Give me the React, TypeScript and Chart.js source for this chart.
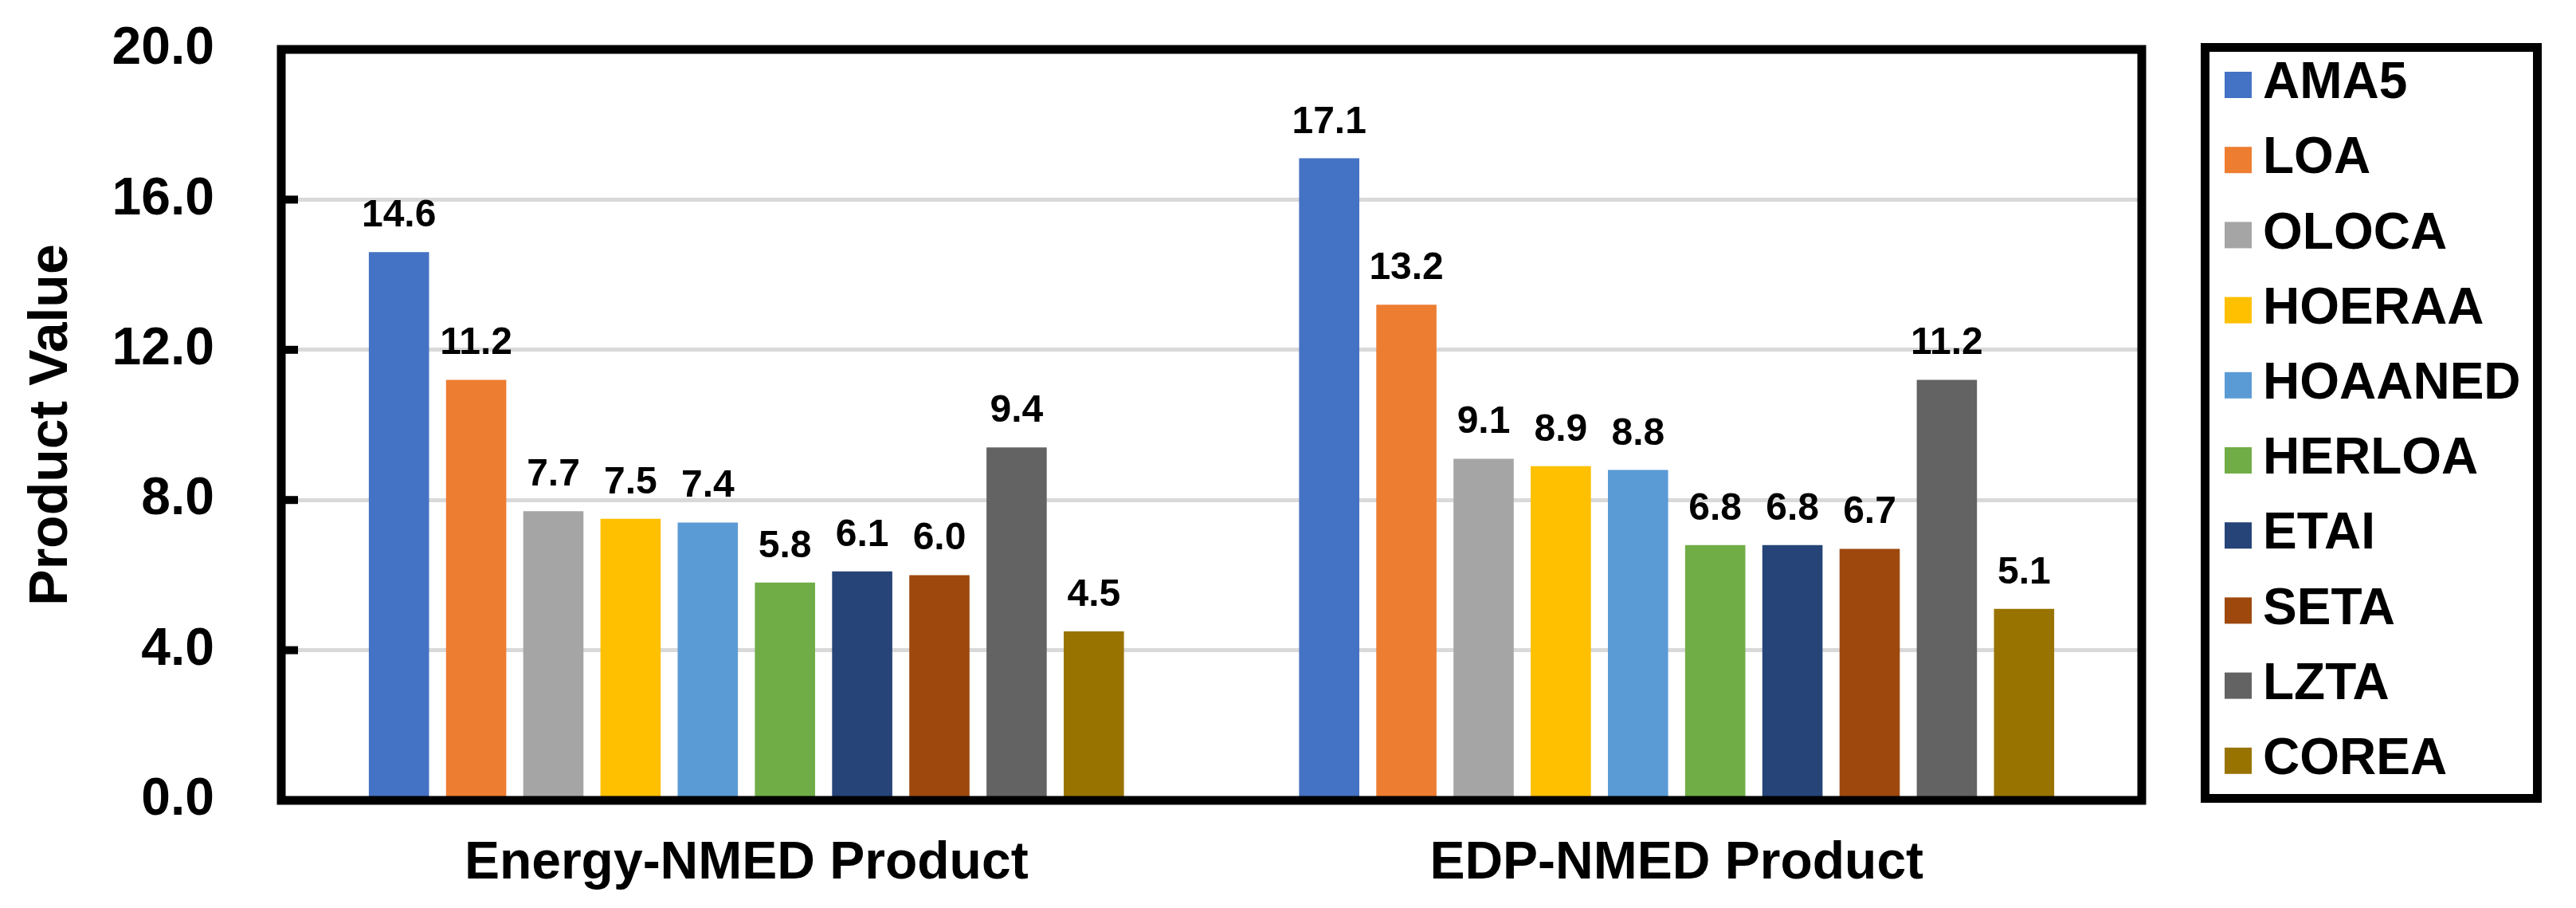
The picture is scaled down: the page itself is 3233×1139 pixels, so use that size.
import React, { useEffect, useRef } from "react";
import { Chart, registerables } from "chart.js";

Chart.register(...registerables);

const categories = ["Energy-NMED Product", "EDP-NMED Product"];
const seriesNames = ["AMA5", "LOA", "OLOCA", "HOERAA", "HOAANED", "HERLOA", "ETAI", "SETA", "LZTA", "COREA"];
const seriesColors = ["#4472C4", "#ED7D31", "#A5A5A5", "#FFC000", "#5B9BD5", "#70AD47", "#264478", "#9E480E", "#636363", "#997300"];
const energyValues = [14.6, 11.2, 7.7, 7.5, 7.4, 5.8, 6.1, 6.0, 9.4, 4.5];
const edpValues = [17.1, 13.2, 9.1, 8.9, 8.8, 6.8, 6.8, 6.7, 11.2, 5.1];
const yTicks = [0, 4, 8, 12, 16, 20];
const yTitle = "Product Value";

const FONT = "'Liberation Sans', Arial, sans-serif";
const W = 3233;
const H = 1139;

const framePlugin = {
  id: "frame",
  afterDatasetsDraw(chart: any) {
    const { ctx, chartArea } = chart;
    const ys = chart.scales.y;
    ctx.save();
    // data labels
    ctx.fillStyle = "#000";
    ctx.font = `bold 48px ${FONT}`;
    ctx.textAlign = "center";
    ctx.textBaseline = "alphabetic";
    chart.data.datasets.forEach((ds: any, i: number) => {
      const meta = chart.getDatasetMeta(i);
      meta.data.forEach((bar: any, j: number) => {
        const v = ds.data[j];
        ctx.fillText(Number(v).toFixed(1), bar.x, bar.y - 32);
      });
    });
    // plot frame
    ctx.strokeStyle = "#000";
    ctx.lineWidth = 11;
    ctx.strokeRect(chartArea.left, chartArea.top, chartArea.right - chartArea.left, chartArea.bottom - chartArea.top);
    // inward tick marks
    yTicks.forEach((v) => {
      if (v === 0 || v === 20) return;
      const y = ys.getPixelForValue(v);
      ctx.fillRect(chartArea.left, y - 5, 21, 10);
    });
    // legend
    const lx = chart.width - 465.5;
    const rx = chart.width - 48.5;
    const ty = 59.5;
    const by = chart.height - 137.5;
    ctx.lineWidth = 11;
    ctx.strokeRect(lx, ty, rx - lx, by - ty);
    const pitch = 94.2;
    ctx.font = `bold 64px ${FONT}`;
    ctx.textAlign = "left";
    ctx.textBaseline = "middle";
    chart.data.datasets.forEach((ds: any, i: number) => {
      const cy = ty + 47 + i * pitch;
      ctx.fillStyle = ds.backgroundColor;
      ctx.fillRect(lx + 24.5, cy - 16.5, 34, 33);
      ctx.fillStyle = "#000";
      ctx.fillText(ds.label, lx + 72.5, cy - 1);
    });
    ctx.restore();
  },
};

export default function App() {
  const ref = useRef<HTMLCanvasElement | null>(null);

  useEffect(() => {
    if (!ref.current) return;
    const datasets = seriesNames.map((name, i) => ({
      label: name,
      data: [energyValues[i], edpValues[i]],
      backgroundColor: seriesColors[i],
      borderWidth: 0,
      categoryPercentage: 0.83,
      barPercentage: 0.78,
    }));
    const chart = new Chart(ref.current, {
      type: "bar",
      data: { labels: categories, datasets },
      options: {
        animation: false,
        responsive: false,
        devicePixelRatio: 1,
        layout: { padding: { left: 0, right: 545, top: 62, bottom: 0 } },
        plugins: {
          legend: { display: false },
          tooltip: { enabled: false },
        },
        scales: {
          x: {
            grid: { display: false },
            border: { display: false },
            ticks: {
              color: "#000",
              font: { family: FONT, size: 66, weight: "bold", lineHeight: 1.2 },
              padding: 32,
              maxRotation: 0,
              autoSkip: false,
            },
            afterFit(scale: any) {
              scale.height = 135;
              scale.paddingLeft = 0;
              scale.paddingRight = 0;
            },
          },
          y: {
            min: 0,
            max: 20,
            afterBuildTicks(scale: any) {
              scale.ticks = yTicks.map((v) => ({ value: v }));
            },
            grid: {
              color: "#D9D9D9",
              lineWidth: 5,
              drawTicks: false,
            },
            border: { display: false },
            ticks: {
              color: "#000",
              font: { family: FONT, size: 66, weight: "bold", lineHeight: 1.2 },
              padding: 84,
              callback: (v: any) => Number(v).toFixed(1),
            },
            title: {
              display: true,
              text: yTitle,
              color: "#000",
              font: { family: FONT, size: 68, weight: "bold", lineHeight: 1.2 },
              padding: { top: 24, bottom: 0 },
            },
            afterFit(scale: any) {
              scale.width = 353;
              scale.paddingTop = 0;
              scale.paddingBottom = 0;
            },
          },
        },
      },
      plugins: [framePlugin],
    });
    return () => chart.destroy();
  }, []);

  return (
    <div style={{ position: "fixed", left: 0, top: 0, width: W, height: H, background: "#fff" }}>
      <canvas ref={ref} width={W} height={H} style={{ width: W, height: H, display: "block" }} />
    </div>
  );
}
